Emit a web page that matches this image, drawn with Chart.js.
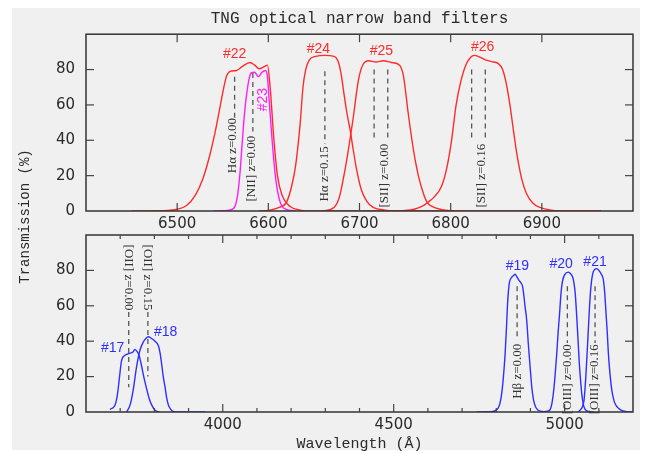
<!DOCTYPE html>
<html>
<head>
<meta charset="utf-8">
<script src="https://cdn.jsdelivr.net/npm/chart.js@4.4.1/dist/chart.umd.min.js"></script>
<style>
  html, body { margin: 0; padding: 0; background: #fff; }
  #wrap { position: relative; width: 648px; height: 454px; overflow: hidden; }
  #paper { position: absolute; left: 12px; top: 8px; right: 8px; bottom: 4px; background: #f0f0f0; }
  canvas { position: absolute; left: 0; top: 0; }
</style>
</head>
<body>
<div id="wrap">
  <div id="paper"></div>
  <canvas id="topChart" width="648" height="454"></canvas>
  <canvas id="bottomChart" width="648" height="454"></canvas>
</div>
<script>
// ---- top panel filters: [wavelength (A), transmission (%)] ----
const f22 = [[6450,0],[6490,0.3],[6500,1],[6510,3],[6520,9],[6528,18],[6535,30],[6541,43],[6546,56],[6550,67],[6554,76],[6558,79],[6565,79.5],[6572,82],[6580,84],[6585,82.5],[6590,80.5],[6595,81.5],[6599,82.5],[6602,70],[6606,41],[6610,20],[6615,9],[6624,2.5],[6635,0.5],[6650,0],[6965,0]];
const f23 = [[6540,0],[6555,0.3],[6562,1.5],[6566,8],[6569,22],[6571,36],[6573,50],[6575,61],[6577,69],[6579,75],[6581,78],[6585,78.5],[6589,76],[6593,78.5],[6597,79.5],[6599,76],[6601,62],[6604,41],[6608,18.5],[6613,5],[6619,1],[6630,0]];
const f24 = [[6590,0],[6600,0.3],[6612,2],[6620,5],[6626,15],[6630,26],[6635,50],[6638,70],[6641,80],[6645,85.5],[6652,87.5],[6662,88],[6672,87.5],[6677,84],[6680,77],[6682.5,68],[6686,56],[6690,45],[6693,35],[6697,23],[6702,12],[6708,5.5],[6715,2],[6728,0.5],[6745,0]];
const f25 = [[6660,0],[6672,2],[6678,8],[6684,23],[6687,32],[6690,42],[6694,56],[6697,68],[6700,77],[6704,83],[6710,85],[6718,84.3],[6726,85],[6735,84],[6744,82.5],[6748,77],[6750,70],[6753,57],[6757,42],[6761,29],[6765,19],[6770,10],[6774,5],[6780,2.5],[6790,0.8],[6805,0]];
const f26 = [[6745,0],[6760,1],[6770,3],[6774,4.5],[6782,8],[6790,14],[6796,25],[6801,40],[6806,60],[6811,73],[6817,83],[6822,87],[6826,88],[6832,87],[6838,85.5],[6845,84.5],[6852,83.5],[6857,80],[6861,72],[6865,60],[6869,45],[6873,31],[6878,18],[6883,10],[6890,4.5],[6898,2],[6910,0.5],[6925,0],[6965,0]];

// ---- bottom panel filters ----
const f17 = [[3670,1.5],[3685,4],[3692,10],[3697,18],[3704,29],[3714,32],[3725,33],[3738,34],[3743,35.4],[3748,34.5],[3753,33],[3758,30],[3763,25.6],[3770,19],[3777,13.4],[3785,7.5],[3792,4],[3802,1],[3815,0]];
const f18 = [[3719,0],[3729,4],[3738,12.4],[3748,25.6],[3758,35],[3768,39.7],[3775,41.5],[3782,42.5],[3792,41.5],[3802,40],[3812,37.3],[3817,33],[3821,27.5],[3826,20],[3831,14.3],[3836,8],[3841,4],[3848,1.5],[3855,0.3],[3870,0],[3948,0]];
const f19 = [[4743,0],[4790,0.3],[4805,2],[4811,5],[4816,10.5],[4821,20],[4826,33],[4830,48],[4833,61],[4836,69],[4839,73.6],[4845,76],[4850,77],[4855,77.8],[4860,76.5],[4866,74.5],[4872,73],[4877,71],[4880,67],[4884,60],[4889,52],[4894,38],[4899,25.6],[4904,14],[4909,6.8],[4916,2.5],[4923,1],[4940,0.2]];
const f20 = [[4935,0],[4950,0.5],[4958,1.5],[4963,5],[4969,14],[4973,23],[4977,33],[4981,45],[4985,55],[4989,66],[4993.5,73.6],[5000,77.5],[5011,79],[5018,78],[5024,76],[5028,72],[5031,67],[5036,52],[5040,38],[5043,27.5],[5047,17],[5050,10.5],[5055,4],[5060,1.5],[5070,0.3],[5085,0]];
const f21 = [[5040,0],[5045,1],[5052,3],[5057,7],[5062,20],[5066,34],[5070,49],[5073,60],[5077,71],[5082,78],[5088,80.5],[5094,81],[5100,80],[5107,78],[5113,75],[5117,68],[5121,56],[5125,44],[5128,33],[5133,21],[5138,12.4],[5145,6],[5153,3],[5165,1],[5182,0.2],[5197,0]];

// emission line markers: wavelength, dash from/to (%)
const topLineWave = [6563, 6583, 6662, 6716, 6731, 6823, 6838];
const topLineFrom = [76, 78, 79, 80, 80, 80, 80];
const topLineTo   = [50, 45, 38, 40, 40, 40, 40];
const topNoteText  = ['H\u03b1 z=0.00', '[NII] z=0.00', 'H\u03b1 z=0.15', '[SII] z=0.00', '[SII] z=0.16'];
const topNoteWave  = [6561, 6582, 6662, 6727, 6834];
const topNoteLevel = [37, 24, 21, 20, 20];

const botLineWave = [3725, 3781, 4861, 5008, 5089];
const botLineFrom = [56.5, 56.5, 71, 71, 71];
const botLineTo   = [14, 20, 41, 39, 39];
const botNoteText  = ['[OII] z=0.00', '[OII] z=0.15', 'H\u03b2 z=0.00', '[OIII] z=0.00', '[OIII] z=0.16'];
const botNoteWave  = [3725, 3781, 4861, 5008, 5089];
const botNoteLevel = [76, 76, 23, 18.5, 18.5];

// filter tags
const topTagText  = ['#22', '#23', '#24', '#25', '#26'];
const topTagWave  = [6563, 6594, 6655, 6724, 6835];
const topTagLevel = [89, 63, 91.6, 90.2, 92.7];
const botTagText  = ['#17', '#18', '#19', '#20', '#21'];
const botTagWave  = [3678, 3833, 4862, 4990, 5089];
const botTagLevel = [36.2, 45.4, 82.5, 83.3, 84.5];

const RED = '#ff2a2a', MAGENTA = '#ff1cff', BLUE = '#2f2fff', INK = '#2a2a2a';

function curve(data, color) {
  return { data, borderColor: color, borderWidth: 1.4, pointRadius: 0, tension: 0.4,
           cubicInterpolationMode: 'monotone', fill: false };
}
function dashes(wave, from, to) {
  return wave.map((w, i) => ({ data: [[w, from[i]], [w, to[i]]], borderColor: '#555', borderWidth: 1.3,
           borderDash: [5, 4], pointRadius: 0, fill: false }));
}

const panelDecor = {
  id: 'panelDecor',
  afterDatasetsDraw(chart, args, opts) {
    const { ctx, chartArea: a, scales: { x, y } } = chart;
    ctx.save();
    ctx.strokeStyle = '#333';
    ctx.lineWidth = 1.5;
    ctx.strokeRect(a.left, a.top, a.right - a.left, a.bottom - a.top);
    ctx.lineWidth = 1.2;
    ctx.strokeStyle = '#444';
    const seg = (x1, y1, x2, y2) => { ctx.beginPath(); ctx.moveTo(x1, y1); ctx.lineTo(x2, y2); ctx.stroke(); };
    x.ticks.forEach(t => {
      const px = x.getPixelForValue(t.value);
      if (px <= a.left + 1 || px >= a.right - 1) return;
      const len = t.value % opts.xMajor === 0 ? 8 : 4;
      seg(px, a.bottom, px, a.bottom - len);
      seg(px, a.top, px, a.top + len);
    });
    y.ticks.forEach(t => {
      const py = y.getPixelForValue(t.value);
      if (py <= a.top + 1 || py >= a.bottom - 1) return;
      const len = t.value % 20 === 0 ? 8 : 4;
      seg(a.left, py, a.left + len, py);
      seg(a.right, py, a.right - len, py);
    });

    // line labels, rotated
    ctx.fillStyle = '#333';
    ctx.font = '13px "Liberation Serif"';
    ctx.textAlign = 'center';
    ctx.textBaseline = 'middle';
    opts.notes.text.forEach((s, i) => {
      const px = x.getPixelForValue(opts.notes.wave[i]);
      const py = y.getPixelForValue(opts.notes.level[i]);
      ctx.save();
      ctx.translate(px, py);
      ctx.rotate(opts.notes.level[i] > 50 ? Math.PI / 2 : -Math.PI / 2);
      ctx.fillText(s, 0, 0);
      ctx.restore();
    });

    // filter tags
    ctx.font = '14px "Liberation Sans"';
    opts.tags.text.forEach((s, i) => {
      const px = x.getPixelForValue(opts.tags.wave[i]);
      const py = y.getPixelForValue(opts.tags.level[i]);
      ctx.fillStyle = opts.tags.colors[i];
      ctx.save();
      ctx.translate(px, py);
      if (opts.tags.rotated.includes(s)) ctx.rotate(-Math.PI / 2);
      ctx.fillText(s, 0, 0);
      ctx.restore();
    });

    if (opts.sideTitle) {
      ctx.fillStyle = INK;
      ctx.font = '14px "Liberation Mono"';
      ctx.save();
      ctx.translate(25, 216.5);
      ctx.rotate(-Math.PI / 2);
      ctx.fillText(opts.sideTitle, 0, 0);
      ctx.restore();
    }
    ctx.restore();
  }
};

function yScale() {
  return {
    type: 'linear', min: 0, max: 100,
    grid: { display: false, drawTicks: false }, border: { display: false },
    ticks: { stepSize: 10, padding: 11, color: INK, font: { family: 'DejaVu Sans', size: 15 },
             callback: v => (v % 20 === 0 && v < 100) ? String(v) : '' },
    afterFit: s => { s.width = 86; }
  };
}

// top panel
new Chart(document.getElementById('topChart'), {
  type: 'line',
  data: {
    datasets: [curve(f22, RED), curve(f23, MAGENTA), curve(f24, RED), curve(f25, RED), curve(f26, RED)]
      .concat(dashes(topLineWave, topLineFrom, topLineTo))
  },
  options: {
    responsive: false, animation: false, events: [],
    layout: { padding: { left: 0, right: 15, top: 0, bottom: 213 } },
    scales: {
      x: {
        type: 'linear', min: 6400, max: 7000,
        grid: { display: false, drawTicks: false }, border: { display: false },
        ticks: { stepSize: 100, padding: 4, color: INK, maxRotation: 0, autoSkip: false,
                 font: { family: 'DejaVu Sans', size: 15 },
                 callback: v => (v > 6400 && v < 7000) ? String(v) : '' },
        afterFit: s => { s.height = 30; }
      },
      y: yScale()
    },
    plugins: {
      legend: { display: false }, tooltip: { enabled: false },
      title: { display: true, text: 'TNG optical narrow band filters', fullSize: false, color: INK,
               font: { family: 'Liberation Mono', size: 16, weight: 'normal' }, padding: { top: 9, bottom: 6 } },
      panelDecor: {
        xMajor: 100,
        notes: { text: topNoteText, wave: topNoteWave, level: topNoteLevel },
        tags: { text: topTagText, wave: topTagWave, level: topTagLevel,
                colors: [RED, MAGENTA, RED, RED, RED], rotated: ['#23'] },
        sideTitle: 'Transmission (%)'
      }
    }
  },
  plugins: [panelDecor]
});

// bottom panel
new Chart(document.getElementById('bottomChart'), {
  type: 'line',
  data: {
    datasets: [curve(f17, BLUE), curve(f18, BLUE), curve(f19, BLUE), curve(f20, BLUE), curve(f21, BLUE)]
      .concat(dashes(botLineWave, botLineFrom, botLineTo))
  },
  options: {
    responsive: false, animation: false, events: [],
    layout: { padding: { left: 0, right: 15, top: 235, bottom: 1 } },
    scales: {
      x: {
        type: 'linear', min: 3600, max: 5200,
        grid: { display: false, drawTicks: false }, border: { display: false },
        ticks: { stepSize: 100, padding: 4, color: INK, maxRotation: 0, autoSkip: false,
                 font: { family: 'DejaVu Sans', size: 15 },
                 callback: v => (v % 500 === 0) ? String(v) : '' },
        title: { display: true, text: 'Wavelength (\u00c5)', color: INK, padding: 0,
                 font: { family: 'Liberation Mono', size: 15 } },
        afterFit: s => { s.height = 41; }
      },
      y: yScale()
    },
    plugins: {
      legend: { display: false }, tooltip: { enabled: false },
      panelDecor: {
        xMajor: 500,
        notes: { text: botNoteText, wave: botNoteWave, level: botNoteLevel },
        tags: { text: botTagText, wave: botTagWave, level: botTagLevel,
                colors: [BLUE, BLUE, BLUE, BLUE, BLUE], rotated: [] }
      }
    }
  },
  plugins: [panelDecor]
});
</script>
</body>
</html>
